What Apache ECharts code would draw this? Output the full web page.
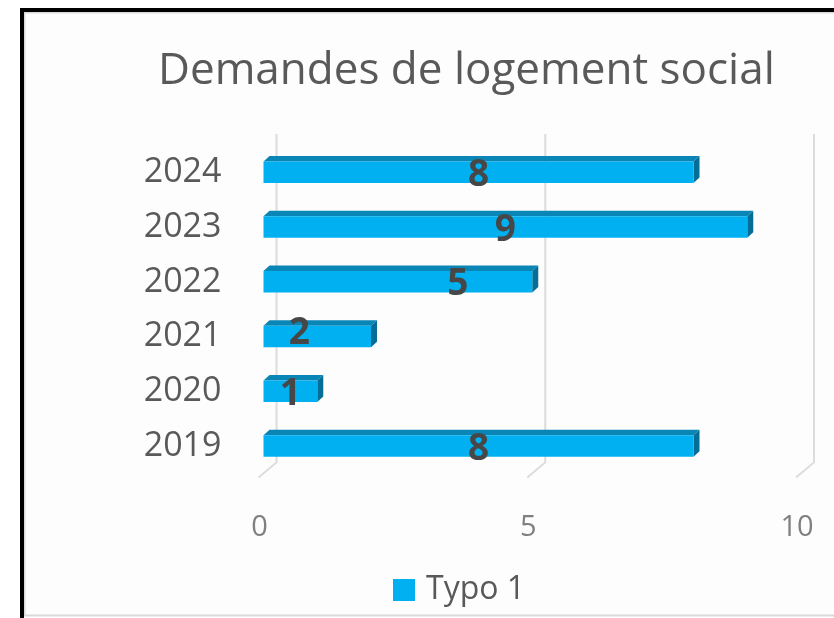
<!DOCTYPE html>
<html>
<head>
<meta charset="utf-8">
<script src="https://cdn.jsdelivr.net/npm/echarts@6/dist/echarts.min.js"></script>
<style>
  html, body { margin: 0; padding: 0; background: #fff; }
  #chart { width: 834px; height: 618px; }
</style>
</head>
<body>
<div id="chart"></div>
<script>
const years = ['2019', '2020', '2021', '2022', '2023', '2024'];
const demandes = [8, 1, 2, 5, 9, 8];
const xTicks = [0, 5, 10];
const seriesName = 'Typo 1';

// Excel put a couple of the 3D labels off-centre; cosmetic nudge (px)
const labelNudge = { '2021': [-18, -6], '2022': [60, 0] };

const FONT = '"Open Sans", "Noto Sans", sans-serif';
const BLUE = '#00b0f0';
const TOP_FACE = '#0a86b6';
const SIDE_FACE = '#056e96';

const chartDom = document.getElementById('chart');
const myChart = echarts.init(chartDom);

// 3D-ish bar: front face + top face + right side, like the Excel chart
function renderBar3d(params, api) {
    const v = api.value(0);
    const c = api.value(1);
    const p0 = api.coord([0, c]);
    const p1 = api.coord([v, c]);
    const h = 21.5, dx = 6, dy = 5.5;
    const x0 = p0[0], x1 = p1[0];
    const yTop = p0[1] - h / 2, yBot = p0[1] + h / 2;
    const nudge = labelNudge[years[c]] || [0, 0];
    return {
        type: 'group',
        children: [
            {
                type: 'polygon',
                shape: { points: [[x0, yTop], [x0 + dx, yTop - dy], [x1 + dx, yTop - dy], [x1, yTop]] },
                style: { fill: TOP_FACE }
            },
            {
                type: 'polygon',
                shape: { points: [[x1, yTop], [x1 + dx, yTop - dy], [x1 + dx, yBot - dy], [x1, yBot]] },
                style: { fill: SIDE_FACE }
            },
            {
                type: 'rect',
                shape: { x: x0, y: yTop, width: x1 - x0, height: h },
                style: { fill: BLUE }
            },
            {
                type: 'text',
                style: {
                    text: String(v),
                    x: (x0 + x1) / 2 + nudge[0],
                    y: p0[1] + 3 + nudge[1],
                    align: 'center',
                    verticalAlign: 'middle',
                    font: 'bold 37px ' + FONT,
                    fill: '#474747'
                }
            }
        ]
    };
}

// gridlines on the back wall with the floor edge going to the front
function renderGrid3d(params, api) {
    const cs = params.coordSys;
    const x = api.coord([api.value(0), 0])[0];
    const bx = x + 13;
    const top = cs.y - 11;
    const bot = cs.y + cs.height - 11;
    return {
        type: 'polyline',
        silent: true,
        shape: { points: [[bx, top], [bx, bot], [x - 5, cs.y + cs.height + 4]] },
        style: { stroke: '#dcdcdc', lineWidth: 2, fill: null }
    };
}

const option = {
    backgroundColor: '#fff',
    animation: false,
    graphic: [
        {
            type: 'rect',
            z: -10,
            shape: { x: 24.5, y: 12.5, width: 812, height: 603 },
            style: { fill: '#fdfdfd', stroke: '#d9d9d9', lineWidth: 2 }
        },
        { type: 'rect', z: -5, shape: { x: 20, y: 8, width: 4, height: 610 }, style: { fill: '#000' } },
        { type: 'rect', z: -5, shape: { x: 20, y: 8, width: 814, height: 4 }, style: { fill: '#000' } }
    ],
    title: {
        text: 'Demandes de logement social',
        left: 158,
        top: 49,
        padding: 0,
        textStyle: {
            fontFamily: FONT,
            fontSize: 44,
            fontWeight: 'normal',
            color: '#595959'
        }
    },
    legend: {
        data: [seriesName],
        left: 388,
        top: 569,
        icon: 'rect',
        itemWidth: 22,
        itemHeight: 22,
        textStyle: {
            fontFamily: FONT,
            fontSize: 32,
            color: '#595959',
            padding: [0, 0, 0, 6]
        }
    },
    grid: {
        left: 263.5,
        right: 33,
        top: 145,
        bottom: 144.6
    },
    xAxis: {
        type: 'value',
        min: 0,
        max: 10,
        interval: 5,
        axisLine: { show: false },
        axisTick: { show: false },
        splitLine: { show: false },
        axisLabel: {
            margin: 40,
            padding: [0, 8, 0, 0],
            fontFamily: FONT,
            fontSize: 29,
            color: '#808080'
        }
    },
    yAxis: {
        type: 'category',
        data: years,
        axisLine: { show: false },
        axisTick: { show: false },
        axisLabel: {
            margin: 42,
            fontFamily: FONT,
            fontSize: 34,
            color: '#595959'
        }
    },
    series: [
        {
            type: 'custom',
            name: 'grid',
            z: 1,
            silent: true,
            renderItem: renderGrid3d,
            encode: { x: 0, y: 1 },
            data: xTicks.map(t => [t, 0])
        },
        {
            type: 'custom',
            name: seriesName,
            z: 2,
            itemStyle: { color: BLUE },
            renderItem: renderBar3d,
            encode: { x: 0, y: 1 },
            data: demandes.map((v, i) => [v, i])
        }
    ]
};

myChart.setOption(option);

window.addEventListener('resize', () => {
    myChart.resize();
});
</script>
</body>
</html>
